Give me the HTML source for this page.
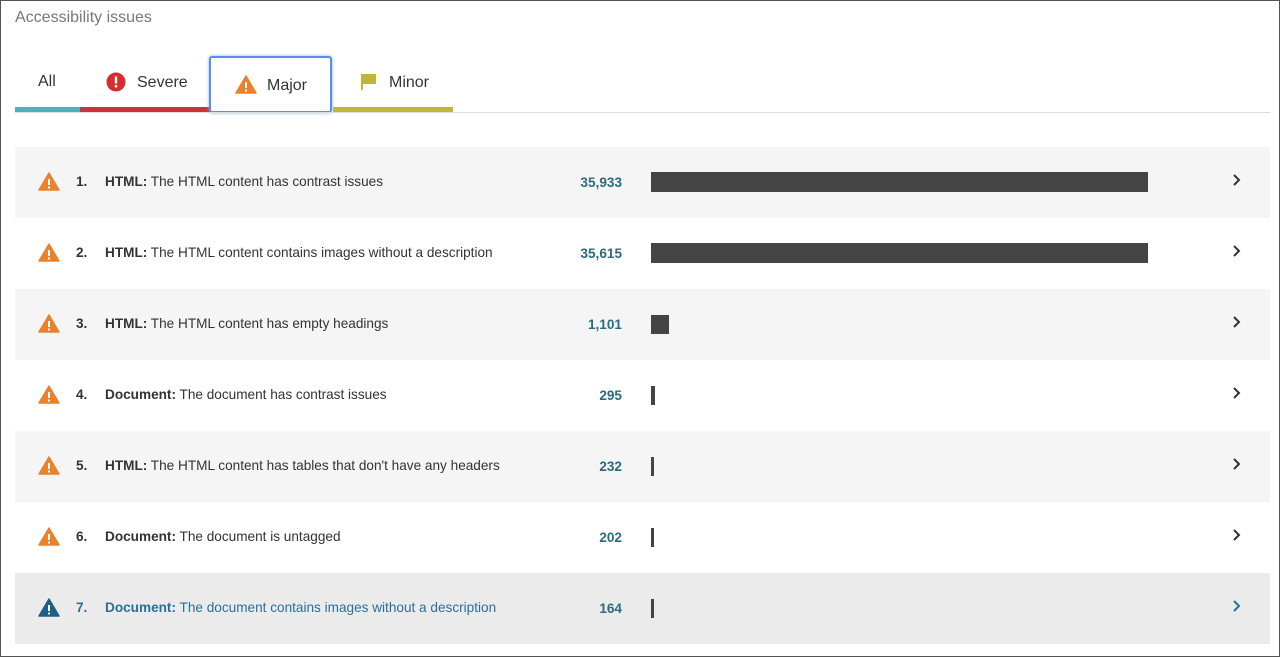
<!DOCTYPE html>
<html><head><style>
*{margin:0;padding:0;box-sizing:border-box}
body{width:1280px;height:657px;background:#fff;font-family:"Liberation Sans",sans-serif;position:relative;overflow:hidden}
.frame{position:absolute;left:0;top:0;width:1280px;height:657px;border:1px solid #555}
.title{position:absolute;left:15px;top:9px;font-size:16px;color:#777}
.tab{position:absolute;top:60px;height:52px;font-size:16px;color:#333}
.line{position:absolute;left:15px;top:112px;width:1255px;height:1px;background:#ddd}
.row{position:absolute;left:15px;width:1255px;height:71px;font-size:13.6px;color:#333}
.row .ic{position:absolute;left:23px;top:25px}
.row .n{position:absolute;left:61px;top:27px;font-weight:bold}
.row .t{position:absolute;left:90px;top:27px}
.row .c{position:absolute;right:648px;top:28px;font-weight:bold;color:#2b6b7f}
.row .b{position:absolute;left:636px;background:#444}
.row .ch{position:absolute;left:1216px;top:25px}
</style></head><body>
<div class="frame"></div>
<div class="title">Accessibility issues</div>
<div class="tab" style="left:38px;top:73px">All</div>
<div style="position:absolute;left:15px;top:107px;width:65px;height:5px;background:#4fb0c6"></div>
<div style="position:absolute;left:80px;top:107px;width:130px;height:5px;background:#cc3333"></div>
<div style="position:absolute;left:333px;top:107px;width:120px;height:5px;background:#c2b63a"></div>
<svg style="position:absolute;left:106px;top:72px" width="20" height="20"><circle cx="10" cy="10" r="9.5" fill="#d32f2f"/><rect x="8.8" y="4.5" width="2.4" height="7" fill="#fff"/><rect x="8.8" y="13" width="2.4" height="2.4" fill="#fff"/></svg>
<div class="tab" style="left:137px;top:74px">Severe</div>
<div style="position:absolute;left:209px;top:56px;width:123px;height:57px;border:2px solid #5b8def;border-radius:3px;background:#fff;box-shadow:0 0 3px #8ab0f5"></div>
<svg style="position:absolute;left:235px;top:75px" width="22" height="19"><path d="M11 1 L21 18 L1 18 Z" fill="#e8822c" stroke="#e8822c" stroke-linejoin="round" stroke-width="1.5"/><rect x="10" y="7" width="2" height="6" fill="#fff"/><rect x="10" y="14.5" width="2" height="2" fill="#fff"/></svg>
<div class="tab" style="left:267px;top:77px">Major</div>
<svg style="position:absolute;left:360px;top:73px" width="18" height="18"><rect x="1" y="1" width="2" height="16" fill="#c2b63a"/><path d="M3 1 H16 V11 H3 Z" fill="#c2b63a"/></svg>
<div class="tab" style="left:389px;top:74px">Minor</div>
<div class="line"></div>

<div class="row" style="top:147px;background:#f5f5f6"><svg class="ic" width="22" height="19"><path d="M11 1 L21 18 L1 18 Z" fill="#e8822c" stroke="#e8822c" stroke-linejoin="round" stroke-width="1.5"/><rect x="10" y="7" width="2" height="6" fill="#fff"/><rect x="10" y="14.5" width="2" height="2" fill="#fff"/></svg><span class="n">1.</span><span class="t"><b>HTML:</b> The HTML content has contrast issues</span><span class="c">35,933</span><div class="b" style="top:25px;width:497px;height:20px"></div><svg class="ch" width="12" height="16"><path d="M3 3 L8 8 L3 13" fill="none" stroke="#333" stroke-width="2"/></svg></div>
<div class="row" style="top:218px;background:#fff"><svg class="ic" width="22" height="19"><path d="M11 1 L21 18 L1 18 Z" fill="#e8822c" stroke="#e8822c" stroke-linejoin="round" stroke-width="1.5"/><rect x="10" y="7" width="2" height="6" fill="#fff"/><rect x="10" y="14.5" width="2" height="2" fill="#fff"/></svg><span class="n">2.</span><span class="t"><b>HTML:</b> The HTML content contains images without a description</span><span class="c">35,615</span><div class="b" style="top:25px;width:497px;height:20px"></div><svg class="ch" width="12" height="16"><path d="M3 3 L8 8 L3 13" fill="none" stroke="#333" stroke-width="2"/></svg></div>
<div class="row" style="top:289px;background:#f5f5f6"><svg class="ic" width="22" height="19"><path d="M11 1 L21 18 L1 18 Z" fill="#e8822c" stroke="#e8822c" stroke-linejoin="round" stroke-width="1.5"/><rect x="10" y="7" width="2" height="6" fill="#fff"/><rect x="10" y="14.5" width="2" height="2" fill="#fff"/></svg><span class="n">3.</span><span class="t"><b>HTML:</b> The HTML content has empty headings</span><span class="c">1,101</span><div class="b" style="top:26px;width:18px;height:19px"></div><svg class="ch" width="12" height="16"><path d="M3 3 L8 8 L3 13" fill="none" stroke="#333" stroke-width="2"/></svg></div>
<div class="row" style="top:360px;background:#fff"><svg class="ic" width="22" height="19"><path d="M11 1 L21 18 L1 18 Z" fill="#e8822c" stroke="#e8822c" stroke-linejoin="round" stroke-width="1.5"/><rect x="10" y="7" width="2" height="6" fill="#fff"/><rect x="10" y="14.5" width="2" height="2" fill="#fff"/></svg><span class="n">4.</span><span class="t"><b>Document:</b> The document has contrast issues</span><span class="c">295</span><div class="b" style="top:26px;width:4px;height:19px"></div><svg class="ch" width="12" height="16"><path d="M3 3 L8 8 L3 13" fill="none" stroke="#333" stroke-width="2"/></svg></div>
<div class="row" style="top:431px;background:#f5f5f6"><svg class="ic" width="22" height="19"><path d="M11 1 L21 18 L1 18 Z" fill="#e8822c" stroke="#e8822c" stroke-linejoin="round" stroke-width="1.5"/><rect x="10" y="7" width="2" height="6" fill="#fff"/><rect x="10" y="14.5" width="2" height="2" fill="#fff"/></svg><span class="n">5.</span><span class="t"><b>HTML:</b> The HTML content has tables that don't have any headers</span><span class="c">232</span><div class="b" style="top:26px;width:3px;height:19px"></div><svg class="ch" width="12" height="16"><path d="M3 3 L8 8 L3 13" fill="none" stroke="#333" stroke-width="2"/></svg></div>
<div class="row" style="top:502px;background:#fff"><svg class="ic" width="22" height="19"><path d="M11 1 L21 18 L1 18 Z" fill="#e8822c" stroke="#e8822c" stroke-linejoin="round" stroke-width="1.5"/><rect x="10" y="7" width="2" height="6" fill="#fff"/><rect x="10" y="14.5" width="2" height="2" fill="#fff"/></svg><span class="n">6.</span><span class="t"><b>Document:</b> The document is untagged</span><span class="c">202</span><div class="b" style="top:26px;width:3px;height:19px"></div><svg class="ch" width="12" height="16"><path d="M3 3 L8 8 L3 13" fill="none" stroke="#333" stroke-width="2"/></svg></div>
<div class="row" style="top:573px;background:#ebebec;color:#2a6f9a"><svg class="ic" width="22" height="19"><path d="M11 1 L21 18 L1 18 Z" fill="#1f5f85" stroke="#1f5f85" stroke-linejoin="round" stroke-width="1.5"/><rect x="10" y="7" width="2" height="6" fill="#fff"/><rect x="10" y="14.5" width="2" height="2" fill="#fff"/></svg><span class="n">7.</span><span class="t"><b>Document:</b> The document contains images without a description</span><span class="c">164</span><div class="b" style="top:26px;width:3px;height:19px"></div><svg class="ch" width="12" height="16"><path d="M3 3 L8 8 L3 13" fill="none" stroke="#2a6f9a" stroke-width="2"/></svg></div>
</body></html>
